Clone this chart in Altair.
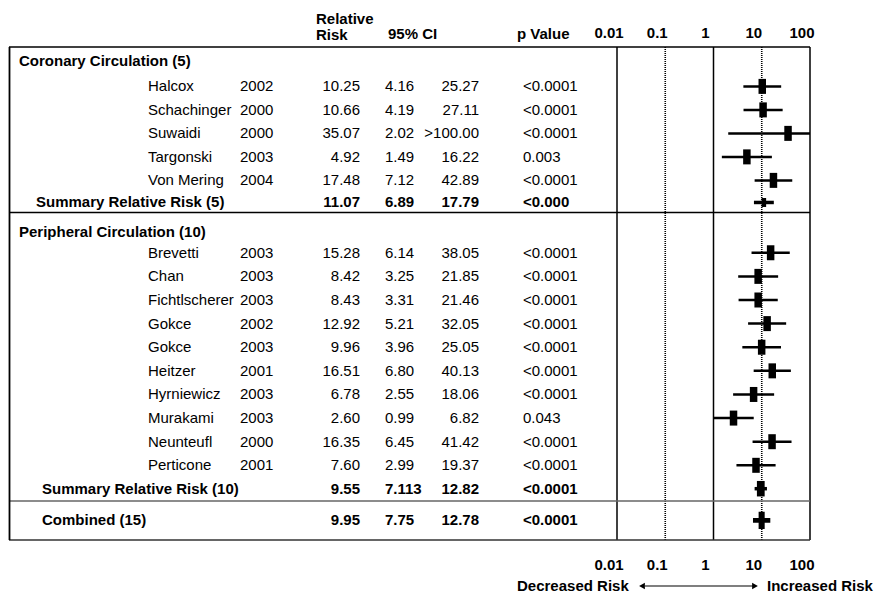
import altair as alt
import pandas as pd

# ---------------- data ----------------
coronary_names = ["Halcox", "Schachinger", "Suwaidi", "Targonski", "Von Mering"]
coronary_years = ["2002", "2000", "2000", "2003", "2004"]
coronary_rr = ["10.25", "10.66", "35.07", "4.92", "17.48"]
coronary_lo = ["4.16", "4.19", "2.02", "1.49", "7.12"]
coronary_hi = ["25.27", "27.11", ">100.00", "16.22", "42.89"]
coronary_p = ["<0.0001", "<0.0001", "<0.0001", "0.003", "<0.0001"]
coronary_summary = ["11.07", "6.89", "17.79", "<0.000"]

peripheral_names = ["Brevetti", "Chan", "Fichtlscherer", "Gokce", "Gokce",
                    "Heitzer", "Hyrniewicz", "Murakami", "Neunteufl", "Perticone"]
peripheral_years = ["2003", "2003", "2003", "2002", "2003",
                    "2001", "2003", "2003", "2000", "2001"]
peripheral_rr = ["15.28", "8.42", "8.43", "12.92", "9.96",
                 "16.51", "6.78", "2.60", "16.35", "7.60"]
peripheral_lo = ["6.14", "3.25", "3.31", "5.21", "3.96",
                 "6.80", "2.55", "0.99", "6.45", "2.99"]
peripheral_hi = ["38.05", "21.85", "21.46", "32.05", "25.05",
                 "40.13", "18.06", "6.82", "41.42", "19.37"]
peripheral_p = ["<0.0001", "<0.0001", "<0.0001", "<0.0001", "<0.0001",
                "<0.0001", "<0.0001", "0.043", "<0.0001", "<0.0001"]
peripheral_summary = ["9.55", "7.113", "12.82", "<0.0001"]

combined_summary = ["9.95", "7.75", "12.78", "<0.0001"]

group_titles = ["Coronary Circulation (5)", "Peripheral Circulation (10)"]
summary_titles = ["Summary Relative Risk (5)", "Summary Relative Risk (10)"]
combined_title = "Combined (15)"

axis_ticks = [0.01, 0.1, 1, 10, 100]
axis_labels = ["0.01", "0.1", "1", "10", "100"]
dotted_ticks = [0.1, 10]

# ---------------- layout ----------------
FONT = "Liberation Sans"
FS = 15
W, H = 869, 587
OFF = 8                      # page margin
ROW = 23.5                   # px per row unit
ROW0 = 61 - OFF              # view y of row 0


def px(v):
    return v - OFF


def num(s):
    return min(float(s.replace(">", "").replace("<", "")), 100.0)


rows = []


def add_group(title, r_head, r_first, step, names, years, rr, lo, hi, p,
              summ, summ_title, r_summ, summ_x, summ_size):
    rows.append(dict(kind="group", r=r_head, label=title))
    for i in range(len(names)):
        rows.append(dict(kind="study", r=r_first + i * step, label=names[i],
                         year=years[i], rr_t=rr[i], lo_t=lo[i], hi_t=hi[i],
                         p_t=p[i], msize=225))
    rows.append(dict(kind="summary", r=r_summ, label=summ_title, rr_t=summ[0],
                     lo_t=summ[1], hi_t=summ[2], p_t=summ[3], name_x=summ_x,
                     msize=summ_size))


add_group(group_titles[0], 0.0, 1.08, 1.0, coronary_names, coronary_years,
          coronary_rr, coronary_lo, coronary_hi, coronary_p,
          coronary_summary, summary_titles[0], 6.02, px(36), 81)
add_group(group_titles[1], 7.28, 8.16, 1.005, peripheral_names, peripheral_years,
          peripheral_rr, peripheral_lo, peripheral_hi, peripheral_p,
          peripheral_summary, summary_titles[1], 18.2, px(42), 240)
rows.append(dict(kind="combined", r=19.55, label=combined_title,
                 rr_t=combined_summary[0], lo_t=combined_summary[1],
                 hi_t=combined_summary[2], p_t=combined_summary[3],
                 name_x=px(42), msize=300))

df = pd.DataFrame(rows)
for c in ["rr", "lo", "hi"]:
    df[c] = df[c + "_t"].map(lambda s: num(s) if isinstance(s, str) else None)

R_TOP, R_SEP1, R_SEP2, R_BOT = -0.6, 6.45, 18.72, 20.38

y_dom = [-ROW0 / ROW, (H - ROW0) / ROW]
yscale = alt.Scale(domain=y_dom, range=[0, H], nice=False, zero=False)
xscale = alt.Scale(type="log", domain=[0.01, 100], range=[px(617), px(810)], nice=False)


def Y(field="r"):
    return alt.Y(f"{field}:Q", scale=yscale, axis=None)


def text_layer(data, field, x, align="left", bold=False, **kw):
    return alt.Chart(data).mark_text(
        align=align, baseline="middle", font=FONT, fontSize=FS,
        fontWeight="bold" if bold else "normal", color="black", **kw
    ).encode(x=x, y=Y(), text=f"{field}:N")


studies = df[df.kind == "study"]
groups = df[df.kind == "group"]
summ = df[df.kind.isin(["summary", "combined"])]

layers = []
# row labels
layers.append(text_layer(groups, "label", alt.value(px(19)), bold=True))
layers.append(text_layer(studies, "label", alt.value(px(148))))
layers.append(text_layer(studies, "year", alt.value(px(240))))
layers.append(text_layer(summ, "label", alt.X("name_x:Q", scale=None), bold=True))
# numeric columns
for data, b in [(studies, False), (summ, True)]:
    layers.append(text_layer(data, "rr_t", alt.value(px(360)), align="right", bold=b))
    layers.append(text_layer(data, "lo_t", alt.value(px(385)), bold=b))
    layers.append(text_layer(data, "hi_t", alt.value(px(479)), align="right", bold=b))
    layers.append(text_layer(data, "p_t", alt.value(px(523)), bold=b))

# column headers
hdr = pd.DataFrame([
    dict(t="Relative", r=-1.8, x=px(316)),
    dict(t="Risk", r=-1.12, x=px(316)),
    dict(t="95% CI", r=-1.17, x=px(388)),
    dict(t="p Value", r=-1.17, x=px(517)),
])
layers.append(alt.Chart(hdr).mark_text(
    align="left", baseline="middle", font=FONT, fontSize=FS, fontWeight="bold",
    color="black").encode(x=alt.X("x:Q", scale=None), y=Y(), text="t:N"))

# axis tick labels top & bottom
ticks = pd.DataFrame({"v": axis_ticks, "lab": axis_labels})
for rr_ in [-1.2, 21.45]:
    layers.append(alt.Chart(ticks).mark_text(
        align="center", baseline="middle", font=FONT, fontSize=FS, fontWeight="bold",
        color="black", dx=-8).encode(
        x=alt.X("v:Q", scale=xscale, axis=None),
        y=alt.value(ROW0 + rr_ * ROW), text="lab:N"))

# vertical reference lines
vl = pd.DataFrame({"v": axis_ticks, "y0": R_TOP, "y1": R_BOT})
vl["dotted"] = vl.v.isin(dotted_ticks)
layers.append(alt.Chart(vl[~vl.dotted]).mark_rule(color="black", strokeWidth=1.5).encode(
    x=alt.X("v:Q", scale=xscale, axis=None), y=Y("y0"), y2="y1:Q"))
layers.append(alt.Chart(vl[vl.dotted]).mark_rule(
    color="black", strokeWidth=1.6, strokeDash=[1.2, 0.8]).encode(
    x=alt.X("v:Q", scale=xscale, axis=None), y=Y("y0"), y2="y1:Q"))

# horizontal frame lines
hl = pd.DataFrame({"r": [R_TOP, R_SEP1, R_SEP2, R_BOT],
                   "c": ["black", "black", "#666", "#333"]})
layers.append(alt.Chart(hl).mark_rule(strokeWidth=1.5).encode(
    x=alt.value(px(9)), x2=alt.value(px(810)), y=Y(),
    color=alt.Color("c:N", scale=None)))
# left frame line
lb = pd.DataFrame({"y0": [R_TOP], "y1": [R_BOT]})
layers.append(alt.Chart(lb).mark_rule(color="black", strokeWidth=1.8).encode(
    x=alt.value(px(9.5)), y=Y("y0"), y2="y1:Q"))

# confidence intervals
ci = df[df.kind.isin(["study", "summary"])]
layers.append(alt.Chart(ci[ci.kind == "study"]).mark_rule(color="black", strokeWidth=2.5).encode(
    x=alt.X("lo:Q", scale=xscale, axis=None), x2="hi:Q", y=Y()))
layers.append(alt.Chart(ci[ci.kind == "summary"]).mark_rule(color="black", strokeWidth=3.5).encode(
    x=alt.X("lo:Q", scale=xscale, axis=None), x2="hi:Q", y=Y()))

# point estimates
RECT = "M-0.5,-1L0.5,-1L0.5,1L-0.5,1Z"
CROSS = "M-0.35,-1L0.35,-1L0.35,-0.28L1,-0.28L1,0.28L0.35,0.28L0.35,1L-0.35,1L-0.35,0.28L-1,0.28L-1,-0.28L-0.35,-0.28Z"
pts = df[df.kind.isin(["study", "summary"])]
layers.append(alt.Chart(pts).mark_point(shape=RECT, filled=True, color="black",
                                        opacity=1, strokeWidth=0).encode(
    x=alt.X("rr:Q", scale=xscale, axis=None), y=Y(),
    size=alt.Size("msize:Q", scale=None)))
layers.append(alt.Chart(df[df.kind == "combined"]).mark_point(
    shape=CROSS, filled=True, color="black", opacity=1, strokeWidth=0).encode(
    x=alt.X("rr:Q", scale=xscale, axis=None), y=Y(),
    size=alt.Size("msize:Q", scale=None)))

# bottom direction legend
BOT_Y = px(586)
bot = pd.DataFrame({"t": ["Decreased Risk", "Increased Risk"], "x": [px(517), px(767)]})
layers.append(alt.Chart(bot).mark_text(
    align="left", baseline="middle", font=FONT, fontSize=FS, fontWeight="bold",
    color="black").encode(x=alt.X("x:Q", scale=None), y=alt.value(BOT_Y), text="t:N"))
arrow = pd.DataFrame({"a": [1]})
layers.append(alt.Chart(arrow).mark_rule(color="black", strokeWidth=1.2).encode(
    x=alt.value(px(645)), x2=alt.value(px(753)), y=alt.value(BOT_Y)))
heads = pd.DataFrame({"x": [px(642), px(755)], "s": ["triangle-left", "triangle-right"]})
layers.append(alt.Chart(heads).mark_point(filled=True, color="black", opacity=1, size=45,
                                          strokeWidth=0).encode(
    x=alt.X("x:Q", scale=None), y=alt.value(BOT_Y),
    shape=alt.Shape("s:N", scale=None)))

chart = alt.layer(*layers).properties(
    width=W, height=H, padding=0, autosize=alt.AutoSizeParams(type="none"),
    background="white",
).configure_view(stroke=None)

chart.save("out.html", embed_options={"renderer": "svg", "actions": False})
